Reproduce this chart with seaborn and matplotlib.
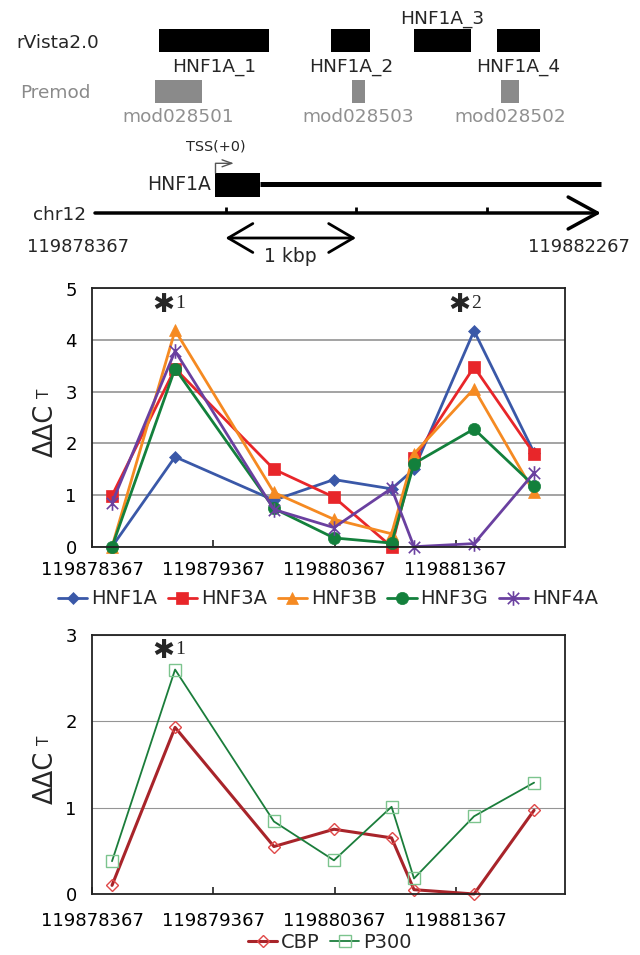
import numpy as np
import pandas as pd
import matplotlib
matplotlib.use("Agg")
import matplotlib.pyplot as plt
import matplotlib.transforms as mtransforms
from matplotlib.patches import Rectangle
from matplotlib.path import Path
import seaborn as sns

# ---------------- data ----------------
region_start = 119878367
region_end = 119882267
axis_ticks = [119878367, 119879367, 119880367, 119881367]
axis_tick_labels = ["119878367", "119879367", "119880367", "119881367"]

# motif / module annotations (bp from region start)
rvista_names = ["HNF1A_1", "HNF1A_2", "HNF1A_3", "HNF1A_4"]
rvista_start = [489, 1812, 2441, 3082]
rvista_end = [1331, 2111, 2878, 3409]
premod_names = ["mod028501", "mod028503", "mod028502"]
premod_start = [457, 1966, 3113]
premod_end = [818, 2067, 3249]
tss = 923
exon_end = 1262
gene_end = 3877
scale_bar = [1000, 2000]

# ChIP amplicon positions
positions = [119878532, 119879052, 119879867, 119880362,
             119880837, 119881022, 119881517, 119882012]

tf_names = ["HNF1A", "HNF3A", "HNF3B", "HNF3G", "HNF4A"]
hnf1a = [0.00, 1.74, 0.90, 1.30, 1.12, 1.50, 4.18, 1.82]
hnf3a = [0.99, 3.45, 1.50, 0.96, 0.00, 1.71, 3.48, 1.80]
hnf3b = [0.00, 4.19, 1.05, 0.53, 0.25, 1.80, 3.06, 1.05]
hnf3g = [0.00, 3.45, 0.74, 0.17, 0.07, 1.61, 2.28, 1.18]
hnf4a = [0.85, 3.79, 0.72, 0.37, 1.13, 0.00, 0.06, 1.43]

co_names = ["CBP", "P300"]
cbp = [0.10, 1.93, 0.55, 0.75, 0.65, 0.05, 0.00, 0.97]
p300 = [0.38, 2.60, 0.84, 0.39, 1.01, 0.18, 0.90, 1.29]

df_tf = pd.DataFrame({
    "position": positions * 5,
    "ddct": hnf1a + hnf3a + hnf3b + hnf3g + hnf4a,
    "factor": [n for n in tf_names for _ in positions],
})
df_co = pd.DataFrame({
    "position": positions * 2,
    "ddct": cbp + p300,
    "factor": [n for n in co_names for _ in positions],
})

# ---------------- style ----------------
sns.set_theme(style="white")
plt.rcParams["font.family"] = ["DejaVu Sans"]

W, H = 640, 955
fig = plt.figure(figsize=(W / 100, H / 100), dpi=100)
fig.patch.set_facecolor("white")

# ---------------- gene diagram ----------------
axd = fig.add_axes([0, 1 - 270 / H, 1, 270 / H])
px_per_bp = 0.1305
x0_px = 95
axd.set_xlim((0 - x0_px) / px_per_bp, (W - x0_px) / px_per_bp)
axd.set_ylim(270, 0)
axd.axis("off")
bt = mtransforms.blended_transform_factory(axd.transAxes, axd.transData)

dfs = 13.3
axd.text(0.0256, 43.3, "rVista2.0", transform=bt, ha="left", va="center", fontsize=dfs)
label_above = [False, False, True, False]
for name, s, e, above in zip(rvista_names, rvista_start, rvista_end, label_above):
    axd.add_patch(Rectangle((s, 29.3), e - s, 23, facecolor="black", edgecolor="none"))
    axd.text((s + e) / 2, 19 if above else 67, name, ha="center", va="center", fontsize=dfs)

grey = "#8a8a8a"
axd.text(0.032, 93, "Premod", transform=bt, ha="left", va="center", fontsize=dfs, color=grey)
for name, s, e in zip(premod_names, premod_start, premod_end):
    axd.add_patch(Rectangle((s, 80), e - s, 23, facecolor=grey, edgecolor="none"))
    axd.text((s + e) / 2, 117, name, ha="center", va="center", fontsize=dfs, color="#909090")

# gene model
axd.text(tss, 146, "TSS(+0)", ha="center", va="center", fontsize=10.4)
axd.plot([tss, tss], [173.3, 163.3], color="#555555", lw=1, solid_capstyle="butt")
axd.annotate("", xy=(tss + 141, 163.3), xytext=(tss, 163.3),
             arrowprops=dict(arrowstyle="->,head_length=0.7,head_width=0.25", color="#555555",
                             lw=1, shrinkA=0, shrinkB=0, mutation_scale=10))
axd.add_patch(Rectangle((tss, 173.3), exon_end - tss, 23.4, facecolor="black", edgecolor="none"))
axd.plot([exon_end, gene_end], [184, 184], color="black", lw=3.6, solid_capstyle="butt")
axd.annotate("HNF1A", xy=(tss, 184), xytext=(-3, 0), textcoords="offset points",
             ha="right", va="center", fontsize=13.5)

# chromosome axis
axd.annotate("", xy=(gene_end, 213), xytext=(0, 213),
             arrowprops=dict(arrowstyle="->,head_length=2.1,head_width=1.15", color="black",
                             lw=2.5, shrinkA=0, shrinkB=0, mutation_scale=10))
for t in axis_ticks[1:]:
    axd.plot([t - region_start] * 2, [206.7, 213], color="black", lw=2, solid_capstyle="butt")
axd.text(0.1347, 215, "chr12", transform=bt, ha="right", va="center", fontsize=dfs)
axd.text(0.122, 247, str(region_start), transform=bt, ha="center", va="center", fontsize=12.9)
axd.text(0.904, 247, str(region_end), transform=bt, ha="center", va="center", fontsize=12.9)
axd.annotate("", xy=(scale_bar[1], 238), xytext=(scale_bar[0], 238),
             arrowprops=dict(arrowstyle="<->,head_length=1.77,head_width=1.04", color="black",
                             lw=2, shrinkA=0, shrinkB=0, mutation_scale=10))
axd.text(sum(scale_bar) / 2, 257, "1 kbp", ha="center", va="center", fontsize=13.5)

# ---------------- chart helpers ----------------
star_path = Path([(-0.78, -0.78), (0.78, 0.78), (-0.78, 0.78), (0.78, -0.78), (0, -1), (0, 1)],
                 [Path.MOVETO, Path.LINETO, Path.MOVETO, Path.LINETO, Path.MOVETO, Path.LINETO])


def style_axes(ax, ymax, grid_lw, grid_col, xpad):
    ax.set_xlim(region_start, region_end)
    ax.set_ylim(0, ymax)
    ax.set_xticks(axis_ticks)
    ax.set_xticklabels(axis_tick_labels)
    ax.set_yticks(range(ymax + 1))
    ax.set_xlabel("")
    ax.set_ylabel("")
    ax.yaxis.grid(True, color=grid_col, lw=grid_lw)
    ax.xaxis.grid(False)
    ax.set_axisbelow(True)
    for sp in ax.spines.values():
        sp.set_visible(True)
        sp.set_color("#222222")
        sp.set_linewidth(1.3)
    ax.tick_params(axis="x", direction="in", bottom=True, length=5, width=1.2,
                   color="#222222", pad=xpad, labelsize=13, labelcolor="black")
    ax.tick_params(axis="y", left=False, length=0, pad=11, labelsize=13, labelcolor="black")
    ax.text(-0.097, 0.45, "ΔΔC", rotation=90, ha="center", va="center", fontsize=18.5,
            transform=ax.transAxes)
    ax.text(-0.101, 0.595, "T", rotation=90, ha="center", va="center", fontsize=11,
            transform=ax.transAxes)


def star_note(ax, xs, xn, y, num):
    ax.text(xs, y, "✱", ha="center", va="center", fontsize=19, fontweight="bold",
            transform=ax.transAxes)
    ax.text(xn, y + 0.004, num, ha="center", va="center", fontsize=14,
            family=["Liberation Serif", "DejaVu Serif"], transform=ax.transAxes)


# ---------------- TF chart ----------------
ax1 = fig.add_axes([92 / W, 1 - 546.7 / H, 473 / W, 258.2 / H])
tf_colors = {"HNF1A": "#3a58a8", "HNF3A": "#e8262a", "HNF3B": "#f58a22",
             "HNF3G": "#13803c", "HNF4A": "#6a40a0"}
tf_markers = {"HNF1A": "D", "HNF3A": "s", "HNF3B": "^", "HNF3G": "o", "HNF4A": star_path}
tf_msize = {"HNF1A": 6.3, "HNF3A": 8.3, "HNF3B": 9.3, "HNF3G": 8.8, "HNF4A": 10.5}
for f in tf_names:
    c = tf_colors[f]
    sns.lineplot(data=df_tf[df_tf["factor"] == f], x="position", y="ddct", ax=ax1,
                 color=c, marker=tf_markers[f], markersize=tf_msize[f],
                 markerfacecolor=c, markeredgecolor=c,
                 markeredgewidth=1.2 if f == "HNF4A" else 0.5,
                 lw=2.0, legend=False, label=f, clip_on=False, errorbar=None)
style_axes(ax1, 5, 1.4, "#a3a3a3", 10)
star_note(ax1, 0.150, 0.186, 0.936, "1")
star_note(ax1, 0.776, 0.812, 0.936, "2")
ax1.legend(handles=list(ax1.get_lines()), labels=tf_names, loc="center",
           bbox_to_anchor=(0.499, (546.7 - 599) / 258.2), ncol=5, frameon=False,
           fontsize=14, handlelength=1.5, handletextpad=0.2, columnspacing=0.55,
           borderpad=0, borderaxespad=0)

# ---------------- co-activator chart ----------------
ax2 = fig.add_axes([92 / W, 1 - 894 / H, 473 / W, 259 / H])
co_colors = {"CBP": "#a8242a", "P300": "#1b7d3b"}
co_edge = {"CBP": "#e04848", "P300": "#7cc48e"}
co_markers = {"CBP": "D", "P300": "s"}
co_msize = {"CBP": 6.5, "P300": 8.5}
co_lw = {"CBP": 2.2, "P300": 1.3}
for f in co_names:
    sns.lineplot(data=df_co[df_co["factor"] == f], x="position", y="ddct", ax=ax2,
                 color=co_colors[f], marker=co_markers[f], markersize=co_msize[f],
                 markerfacecolor="none", markeredgecolor=co_edge[f], markeredgewidth=1.0,
                 lw=co_lw[f], legend=False, label=f, clip_on=False, errorbar=None)
style_axes(ax2, 3, 0.8, "#959595", 13)
star_note(ax2, 0.150, 0.186, 0.940, "1")
ax2.legend(handles=list(ax2.get_lines()), labels=co_names, loc="center",
           bbox_to_anchor=(0.503, (894 - 942) / 259), ncol=2, frameon=False,
           fontsize=14, handlelength=1.5, handletextpad=0.2, columnspacing=0.55,
           borderpad=0, borderaxespad=0)

fig.savefig("out.png", dpi=100, facecolor="white")
